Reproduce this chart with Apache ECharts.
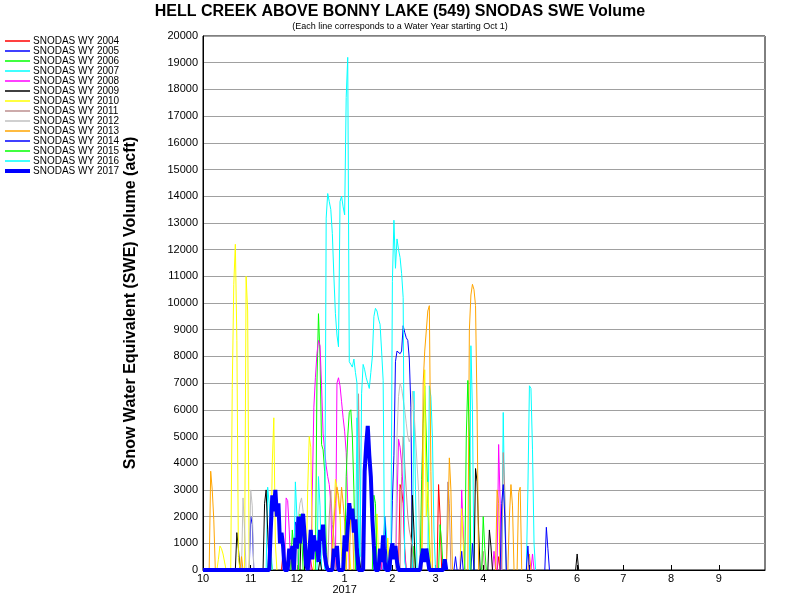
<!DOCTYPE html>
<html>
<head>
<meta charset="utf-8">
<script src="https://cdn.jsdelivr.net/npm/echarts/dist/echarts.min.js"></script>
<style>
    html, body { margin: 0; padding: 0; background: #fff; }
    #chart { width: 800px; height: 600px; }
</style>
</head>
<body>
<div id="chart"></div>
<script>
// x = day of water year (0 = Oct 1), y = SWE volume (acft)
const monthStarts = [0, 31, 61, 92, 123, 151, 182, 212, 243, 273, 304, 335];
const monthLabels = ['10', '11', '12', '1\n2017', '2', '3', '4', '5', '6', '7', '8', '9'];

const seriesNames = [
    'SNODAS WY 2004', 'SNODAS WY 2005', 'SNODAS WY 2006', 'SNODAS WY 2007',
    'SNODAS WY 2008', 'SNODAS WY 2009', 'SNODAS WY 2010', 'SNODAS WY 2011',
    'SNODAS WY 2012', 'SNODAS WY 2013', 'SNODAS WY 2014', 'SNODAS WY 2015',
    'SNODAS WY 2016', 'SNODAS WY 2017'
];
const seriesColors = [
    '#ff0000', '#0000ff', '#00ff00', '#00ffff', '#ff00ff', '#000000', '#ffff00',
    '#bc8f8f', '#c0c0c0', '#ffa500', '#0000ff', '#00ff00', '#00ffff', '#0000ff'
];

const wy2004 = [[0,0],[51,0],[52,700],[53,700],[54,300],[55,0],[68,0],[69,500],[70,300],[71,0],[86,0],[87,400],[88,0],
    [114,0],[115,700],[116,0],[127,0],[128,3200],[129,3000],[130,2500],[131,800],[132,0],[152,0],[153,3200],[154,2000],
    [155,0],[191,0],[192,500],[193,0],[365,0]];
const wy2005 = [[0,0],[30,0],[31,2000],[32,1700],[33,0],[59,0],[60,1800],[61,1600],[62,0],
    [122,0],[123,2600],[124,4300],[125,7800],[126,8200],[127,8200],[128,8100],[129,8200],[130,9150],[131,8900],
    [132,8700],[133,8600],[134,7900],[135,6100],[136,500],[137,0],[365,0]];
const wy2006 = [[0,0],[42,0],[43,800],[44,500],[45,0],[73,0],[74,7000],[75,9600],[76,8000],[77,4700],[78,4500],
    [79,3700],[80,1000],[81,0],[136,0],[137,900],[138,0],[141,0],[142,3400],[143,5500],[144,6900],[145,5000],
    [146,2500],[147,1000],[148,0],[365,0]];
const wy2007 = [[0,0],[41,0],[42,3100],[43,2500],[44,1000],[45,0],[59,0],[60,3300],[61,2000],[62,0],[74,0],[75,3500],
    [76,2400],[77,0],[99,0],[100,5700],[101,3000],[102,0],[117,0],[118,2000],[119,1500],[120,0],[136,0],[137,6700],
    [138,3000],[139,0],[146,0],[147,6900],[148,6500],[149,5000],[150,1500],[151,0],[173,0],[174,8400],[175,6000],
    [176,0],[194,0],[195,5900],[196,2000],[197,0],[210,0],[211,3000],[212,6900],[213,6800],[214,4500],[215,1000],
    [216,0],[365,0]];
const wy2008 = [[0,0],[53,0],[54,2700],[55,2600],[56,1500],[57,0],[70,0],[71,3000],[72,6100],[73,7200],[74,8100],
    [75,8600],[76,8400],[77,6900],[78,5100],[79,4500],[80,3900],[81,3500],[82,3200],[83,2500],[84,0],[86,0],[87,7000],
    [88,7200],[89,6900],[90,6300],[91,5700],[92,5200],[93,4400],[94,2500],[95,0],[116,0],[117,1000],[118,0],
    [125,0],[126,2500],[127,4900],[128,4600],[129,4000],[130,3000],[131,600],[132,0],[167,0],[168,3000],[169,1500],
    [170,0],[188,0],[189,700],[190,0],[191,0],[192,4700],[193,2500],[194,0],[213,0],[214,600],[215,0],[365,0]];
const wy2009 = [[0,0],[21,0],[22,1400],[23,800],[24,0],[39,0],[40,2500],[41,3000],[42,1500],[43,0],[57,0],[58,800],
    [59,0],[63,0],[64,2000],[65,1300],[66,0],[75,0],[76,400],[77,0],[102,0],[103,400],[104,0],[135,0],[136,2800],
    [137,1500],[138,0],[176,0],[177,3800],[178,3300],[179,1500],[180,0],[185,0],[186,1500],[187,900],[188,0],
    [242,0],[243,600],[244,0],[365,0]];
const wy2010 = [[0,0],[9,0],[10,400],[11,900],[12,800],[13,600],[14,300],[15,0],[18,0],[19,6800],[20,10700],[21,12200],
    [22,8600],[23,500],[24,0],[27,0],[28,11000],[29,9700],[30,0],[44,0],[45,4000],[46,5700],[47,1000],[48,0],[67,0],
    [68,3000],[69,5000],[70,4600],[71,1000],[72,0],[84,0],[85,2000],[86,3400],[87,3100],[88,3100],[89,2000],[90,500],
    [91,0],[93,0],[94,1500],[95,800],[96,0],[112,0],[113,2100],[114,500],[115,0],[119,0],[120,1200],[121,0],
    [142,0],[143,3000],[144,7500],[145,2000],[146,3300],[147,1500],[148,0],[167,0],[168,2300],[169,1000],[170,0],[365,0]];
const wy2011 = [[0,0],[81,0],[82,2000],[83,3000],[84,1700],[85,1200],[86,0],[100,0],[101,6600],[102,3000],[103,0],
    [128,0],[129,3500],[130,5000],[131,4000],[132,3000],[133,2000],[134,1500],[135,1200],[136,800],[137,0],[158,0],
    [159,3300],[160,2500],[161,0],[181,0],[182,700],[183,0],[194,0],[195,4400],[196,3000],[197,0],[365,0]];
const wy2012 = [[0,0],[25,0],[26,2700],[27,1500],[28,0],[30,0],[31,3000],[32,2400],[33,0],[55,0],[56,500],[57,0],
    [61,0],[62,2000],[63,2500],[64,2700],[65,2200],[66,1000],[67,0],[125,0],[126,5000],[127,6500],[128,7000],
    [129,6800],[130,6400],[131,6000],[132,5500],[133,5000],[134,4800],[135,5000],[136,6700],[137,6000],[138,5000],
    [139,4000],[140,3000],[141,0],[365,0]];
const wy2013 = [[0,0],[4,0],[5,3700],[6,3000],[7,1900],[8,0],[24,0],[25,500],[26,0],[83,0],[84,1000],[85,1800],
    [86,2500],[87,3100],[88,2800],[89,2100],[90,3100],[91,2500],[92,1800],[93,0],[95,0],[96,2400],[97,2000],[98,0],
    [142,0],[143,7000],[144,8200],[145,8200],[146,9700],[147,9900],[148,3700],[149,0],[158,0],[159,1500],[160,4200],
    [161,3000],[162,0],[172,0],[173,9000],[174,10300],[175,10700],[176,10500],[177,9900],[178,6000],[179,0],[190,0],
    [191,3000],[192,2500],[193,0],[198,0],[199,2000],[200,3200],[201,2400],[202,0],[204,0],[205,2900],[206,3100],
    [207,0],[211,0],[212,600],[213,0],[365,0]];
const wy2014 = [[0,0],[100,0],[101,800],[102,0],[117,0],[118,2000],[119,800],[120,0],[163,0],[164,500],[165,0],
    [167,0],[168,700],[169,0],[174,0],[175,1000],[176,0],[193,0],[194,2500],[195,3200],[196,2000],[197,0],[210,0],
    [211,900],[212,0],[222,0],[223,1600],[224,800],[225,0],[365,0]];
const wy2015 = [[0,0],[57,0],[58,1500],[59,800],[60,0],[62,0],[63,2100],[64,1500],[65,0],[92,0],[93,3500],[94,5000],
    [95,5900],[96,6000],[97,5000],[98,3000],[99,0],[110,0],[111,2800],[112,2500],[113,0],[153,0],[154,1700],[155,1000],
    [156,0],[170,0],[171,5000],[172,7100],[173,5000],[174,0],[181,0],[182,2000],[183,800],[184,0],[365,0]];
const wy2016 = [[0,0],[79,0],[80,13180],[81,14100],[82,13800],[83,13500],[84,12600],[85,11000],[86,9600],[87,8800],
    [88,8360],[89,13800],[90,14000],[91,13600],[92,13300],[93,17700],[94,19200],[95,7800],[96,7700],[97,7600],
    [98,7900],[99,7400],[100,7000],[101,1000],[102,500],[103,6600],[104,7700],[105,7500],[106,7200],[107,7000],
    [108,6800],[109,7400],[110,8000],[111,9500],[112,9800],[113,9700],[114,9400],[115,9200],[116,8200],[117,7100],
    [118,0],[122,0],[123,10800],[124,13100],[125,11300],[126,12400],[127,12000],[128,11700],[129,11100],[130,10200],
    [131,300],[132,0],[365,0]];
const wy2017 = [[0,0],[43,0],[44,1500],[45,2800],[46,2200],[47,3000],[48,2000],[49,2500],[50,1000],[51,1400],[52,900],
    [53,0],[55,0],[56,800],[57,400],[58,900],[59,0],[60,1200],[61,800],[62,2000],[63,1000],[64,1800],[65,2100],
    [66,1300],[67,200],[68,0],[69,600],[70,1500],[71,400],[72,1300],[73,700],[74,1100],[75,300],[76,1500],[77,1100],
    [78,1700],[79,600],[80,200],[81,0],[84,0],[85,800],[86,500],[87,900],[88,0],[91,0],[92,1300],[93,700],[94,1600],
    [95,2500],[96,1900],[97,2300],[98,1400],[99,1900],[100,700],[101,0],[104,0],[105,3700],[106,4700],[107,5400],
    [108,4300],[109,3500],[110,1900],[111,900],[112,0],[114,0],[115,800],[116,300],[117,1300],[118,300],[119,0],
    [121,0],[122,700],[123,1000],[124,400],[125,900],[126,300],[127,0],[141,0],[142,500],[143,800],[144,300],
    [145,800],[146,400],[147,0],[156,0],[157,400],[158,0]];

const seriesData = [wy2004, wy2005, wy2006, wy2007, wy2008, wy2009, wy2010,
    wy2011, wy2012, wy2013, wy2014, wy2015, wy2016, wy2017];

const FONT = 'Liberation Sans, Arial, sans-serif';
const LAST = seriesNames.length - 1;

// leave flat zero runs undrawn so the black axis line stays visible
const dropZeroRuns = (data) => {
    const out = [];
    data.forEach((pt, i) => {
        if (i > 0 && pt[1] === 0 && data[i - 1][1] === 0) {
            out.push([pt[0], null]);
        }
        out.push(pt);
    });
    return out;
};

const buildSeries = () => seriesNames.map((name, i) => ({
    name: name,
    type: 'line',
    data: i === LAST ? seriesData[i] : dropZeroRuns(seriesData[i]),
    symbol: 'none',
    connectNulls: false,
    lineStyle: { color: seriesColors[i], width: i === LAST ? 4 : 1 },
    itemStyle: { color: seriesColors[i] },
    emphasis: { disabled: true }
}));

const legendItems = seriesNames.map((name, i) => ({
    name: name,
    icon: i === LAST ? 'path://M0,0H25V4H0Z' : 'path://M0,0H25V1.5H0Z'
}));

const chart = echarts.init(document.getElementById('chart'));
chart.setOption({
    animation: false,
    backgroundColor: '#fff',
    title: {
        text: 'HELL CREEK ABOVE BONNY LAKE (549) SNODAS SWE Volume',
        subtext: '(Each line corresponds to a Water Year starting Oct 1)',
        left: 'center',
        top: 4,
        itemGap: 2,
        padding: 0,
        textStyle: { fontFamily: FONT, fontSize: 16, fontWeight: 'bold', color: '#000' },
        subtextStyle: { fontFamily: FONT, fontSize: 9, color: '#000' }
    },
    legend: {
        data: legendItems,
        orient: 'vertical',
        left: 5,
        top: 36,
        padding: 0,
        itemWidth: 25,
        itemHeight: 10,
        itemGap: 0,
        selectedMode: false,
        textStyle: { fontFamily: FONT, fontSize: 10, color: '#000', padding: [0, 0, 0, -2] }
    },
    grid: {
        left: 203,
        right: 35,
        top: 36,
        bottom: 30,
        show: true,
        borderColor: '#000',
        borderWidth: 1
    },
    xAxis: {
        type: 'value',
        min: 0,
        max: 365,
        splitLine: { show: false },
        axisLine: { lineStyle: { color: '#000', width: 1 } },
        axisTick: {
            inside: true,
            length: 5,
            customValues: monthStarts,
            lineStyle: { color: '#000' }
        },
        axisLabel: {
            customValues: monthStarts,
            formatter: (v) => monthLabels[monthStarts.indexOf(v)] || '',
            fontFamily: FONT,
            fontSize: 11,
            lineHeight: 11,
            color: '#000',
            margin: 3
        }
    },
    yAxis: {
        type: 'value',
        min: 0,
        max: 20000,
        interval: 1000,
        name: 'Snow Water Equivalent (SWE) Volume (acft)',
        nameLocation: 'middle',
        nameGap: 64,
        nameTextStyle: { fontFamily: FONT, fontSize: 16, fontWeight: 'bold', color: '#000' },
        axisLine: { show: true, lineStyle: { color: '#000', width: 1 } },
        axisTick: { show: false },
        splitLine: { lineStyle: { color: '#a0a0a0', width: 1 } },
        axisLabel: {
            formatter: (v) => String(v),
            fontFamily: FONT,
            fontSize: 11,
            color: '#000',
            margin: 5
        }
    },
    series: buildSeries()
});
</script>
</body>
</html>
